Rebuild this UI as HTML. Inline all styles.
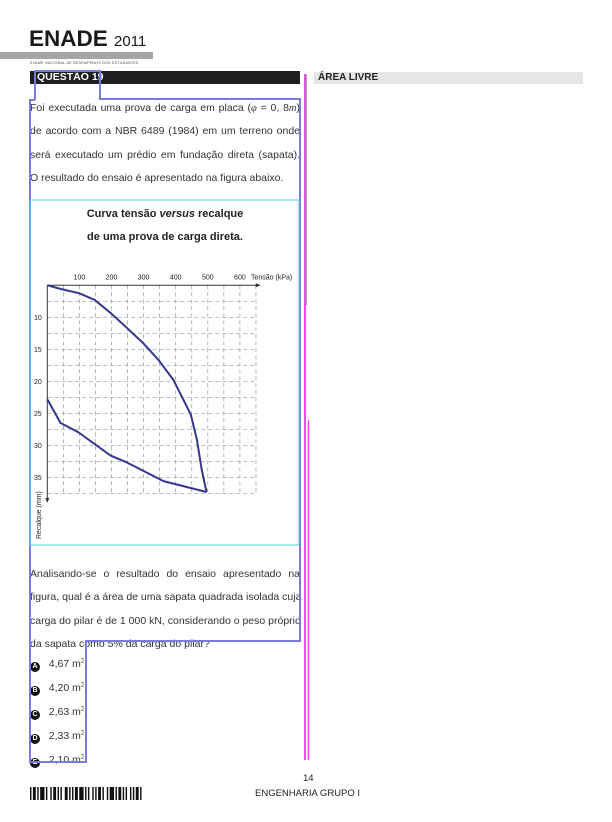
<!DOCTYPE html>
<html><head><meta charset="utf-8"><style>
body{margin:0;width:612px;height:822px;background:#fff;position:relative;overflow:hidden;font-family:"Liberation Sans",sans-serif;color:#222}
.a{position:absolute;white-space:nowrap}
.t{font-size:10.5px;color:#333;white-space:normal}
.j{display:block;width:270px;text-align:justify;text-align-last:justify;height:23.4px;line-height:23.4px;white-space:nowrap}
.n{display:block;height:23.4px;line-height:23.4px;white-space:nowrap}
sup{font-size:6px;line-height:0}
.o{height:24px;line-height:24px}
.c{display:inline-block;width:10px;height:10px;border-radius:5px;background:#111;color:#fff;font-size:7px;font-weight:bold;text-align:center;line-height:10px;vertical-align:-1px}
</style></head><body>
<div class="a" style="left:29px;top:27px;font-size:22.5px;font-weight:bold;color:#1a1a1a;line-height:24px">ENADE <span style="font-size:15px;font-weight:normal">2011</span></div>
<div class="a" style="left:0;top:52px;width:153px;height:7px;background:#a6a6a6"></div>
<div class="a" style="left:30px;top:61px;font-size:3.5px;color:#444;letter-spacing:0.3px">EXAME NACIONAL DE DESEMPENHO DOS ESTUDANTES</div>
<div class="a" style="left:30px;top:71px;width:270px;height:13px;background:#1e1e1e"></div>
<div class="a" style="left:37px;top:71px;font-size:10.5px;font-weight:bold;color:#fff;line-height:13px">QUESTÃO 19</div>
<div class="a" style="left:314px;top:72px;width:269px;height:12px;background:#e6e6e6"></div>
<div class="a" style="left:318px;top:72px;font-size:10px;font-weight:bold;color:#222;line-height:12px">ÁREA LIVRE</div>

<div class="a t" style="left:30px;top:97px;width:270px">
<span class="j">Foi executada uma prova de carga em placa (<i style="font-family:'Liberation Serif',serif">φ</i> = 0, 8<i style="font-family:'Liberation Serif',serif">m</i>)</span>
<span class="j">de acordo com a NBR 6489 (1984) em um terreno onde</span>
<span class="j">será executado um prédio em fundação direta (sapata).</span>
<span class="n">O resultado do ensaio é apresentado na figura abaixo.</span></div>

<svg class="a" style="left:0;top:0" width="612" height="822">
<text x="165" y="217" text-anchor="middle" font-size="11" font-weight="bold" fill="#222" font-family="Liberation Sans">Curva tensão <tspan font-style="italic">versus</tspan> recalque</text>
<text x="165" y="240" text-anchor="middle" font-size="11" font-weight="bold" fill="#222" font-family="Liberation Sans">de uma prova de carga direta.</text>
<g id="grid"></g><g id="axes"></g><g id="curve"></g>
</svg>

<div class="a t" style="left:30px;top:563px;width:270px">
<span class="j">Analisando-se o resultado do ensaio apresentado na</span>
<span class="j">figura, qual é a área de uma sapata quadrada isolada cuja</span>
<span class="j">carga do pilar é de 1 000 kN, considerando o peso próprio</span>
<span class="n">da sapata como 5% da carga do pilar?</span></div>

<div class="a t" style="left:30px;top:652px">
<div class="o"><span class="c">A</span>&nbsp;&nbsp; 4,67 m<sup>2</sup></div>
<div class="o"><span class="c">B</span>&nbsp;&nbsp; 4,20 m<sup>2</sup></div>
<div class="o"><span class="c">C</span>&nbsp;&nbsp; 2,63 m<sup>2</sup></div>
<div class="o"><span class="c">D</span>&nbsp;&nbsp; 2,33 m<sup>2</sup></div>
<div class="o"><span class="c">E</span>&nbsp;&nbsp; 2,10 m<sup>2</sup></div>
</div>

<div class="a" style="left:303px;top:773px;font-size:9.5px;color:#222">14</div>
<div class="a" style="left:255px;top:788px;font-size:9.5px;color:#222">ENGENHARIA GRUPO I</div>
<svg class="a" style="left:30px;top:787px" width="114" height="20" id="bc"></svg>

<svg class="a" style="left:0;top:0;pointer-events:none" width="612" height="822">
<polyline points="35,100 35,71 100,71 100,99 300,99 300,641 86,641 86,762 30,762 30,100 35,100" fill="none" stroke="#7b7bdc" stroke-width="2"/>
<rect x="30" y="200" width="269" height="345" fill="none" stroke="#4fd6dc" stroke-width="1"/>
<line x1="305" y1="74" x2="305" y2="760" stroke="#ff44ff" stroke-width="2"/>
<line x1="306" y1="74" x2="306" y2="305" stroke="#888" stroke-width="1.5"/>
<line x1="308.5" y1="420" x2="308.5" y2="760" stroke="#ff44ff" stroke-width="1.5"/>
</svg>

<script>
const xTicks=[100,200,300,400,500,600];
const yTicks=[10,15,20,25,30,35];
const loadX=[0,44,100,148,199,249,300,347,393,424,447,466,481,496];
const loadY=[5.0,5.6,6.25,7.3,9.4,11.7,14.1,16.7,19.8,22.9,25.2,29.1,33.8,37.3];
const unloadX=[496,362,249,197,98,41,0];
const unloadY=[37.3,35.6,32.7,31.6,28.0,26.5,22.8];
const NS='http://www.w3.org/2000/svg';
const sx=v=>47.3+v*0.321;
const sy=v=>253.3+v*6.4;
function mk(tag,attrs,parent,txt){const e=document.createElementNS(NS,tag);for(const k in attrs)e.setAttribute(k,attrs[k]);if(txt!==undefined)e.textContent=txt;parent.appendChild(e);return e;}
const grid=document.getElementById('grid'),axes=document.getElementById('axes'),curve=document.getElementById('curve');
for(let v=50;v<=650;v+=50){const l=mk('line',{x1:sx(v),y1:sy(5),x2:sx(v),y2:sy(37.5),stroke:'#999','stroke-width':0.7,'stroke-dasharray':'4,3'},grid);

}
for(let v=7.5;v<=37.5;v+=2.5){const l=mk('line',{x1:sx(0),y1:sy(v),x2:sx(650),y2:sy(v),stroke:'#999','stroke-width':0.7,'stroke-dasharray':'4,3'},grid);

}
mk('line',{x1:sx(0),y1:sy(5),x2:sx(660),y2:sy(5),stroke:'#333','stroke-width':1},axes);
mk('path',{d:`M${sx(665)},${sy(5)} l-5,-2 v4 z`,fill:'#333'},axes);
mk('line',{x1:sx(0),y1:sy(5),x2:sx(0),y2:sy(38.5),stroke:'#333','stroke-width':1},axes);
mk('path',{d:`M${sx(0)},${sy(39)} l-2,-5 h4 z`,fill:'#333'},axes);
xTicks.forEach(v=>{const t=mk('text',{x:sx(v),y:sy(5)-6,'text-anchor':'middle','font-size':7,'font-family':'Liberation Sans',fill:'#222'},axes,String(v));

});
yTicks.forEach(v=>{const t=mk('text',{x:34,y:sy(v)+2.5,'font-size':7,'font-family':'Liberation Sans',fill:'#222'},axes,String(v));

});
const xt=mk('text',{x:251,y:sy(5)-6,'font-size':7,'font-family':'Liberation Sans',fill:'#222'},axes,'Tensão (kPa)');


const yt=mk('text',{x:0,y:0,'font-size':7,'font-family':'Liberation Sans',fill:'#222',transform:'translate(41,539) rotate(-90)'},axes,'Recalque (mm)');


const p1=mk('polyline',{points:loadX.map((x,i)=>sx(x)+','+sy(loadY[i])).join(' '),fill:'none',stroke:'#35358f','stroke-width':2,'stroke-linejoin':'round'},curve);


const p2=mk('polyline',{points:unloadX.map((x,i)=>sx(x)+','+sy(unloadY[i])).join(' '),fill:'none',stroke:'#35358f','stroke-width':2,'stroke-linejoin':'round'},curve);


const bc=document.getElementById('bc');
const pat=[1,1,2,1,1,1,3,1,1,2,1,1,2,1,1,1,1,2,2,1,1,1,1,1,2,1,3,1,1,1,1,2,1,1,1,1,2,1,1,2,1,1,3,1,1,1,2,1,1,1,1,2,1,1,1,1,2,1,1,1];
let tot=pat.reduce((a,b)=>a+b,0);const u=113/tot;let x=0;
pat.forEach((ww,i)=>{if(i%2==0)mk('rect',{x:x,y:0,width:ww*u,height:13,fill:'#111'},bc);x+=ww*u;});
for(let i=0;i<11;i++)mk('text',{x:5+i*10,y:19,'font-size':4,fill:'#555','font-family':'Liberation Sans'},bc,'·');
</script>
</body></html>
